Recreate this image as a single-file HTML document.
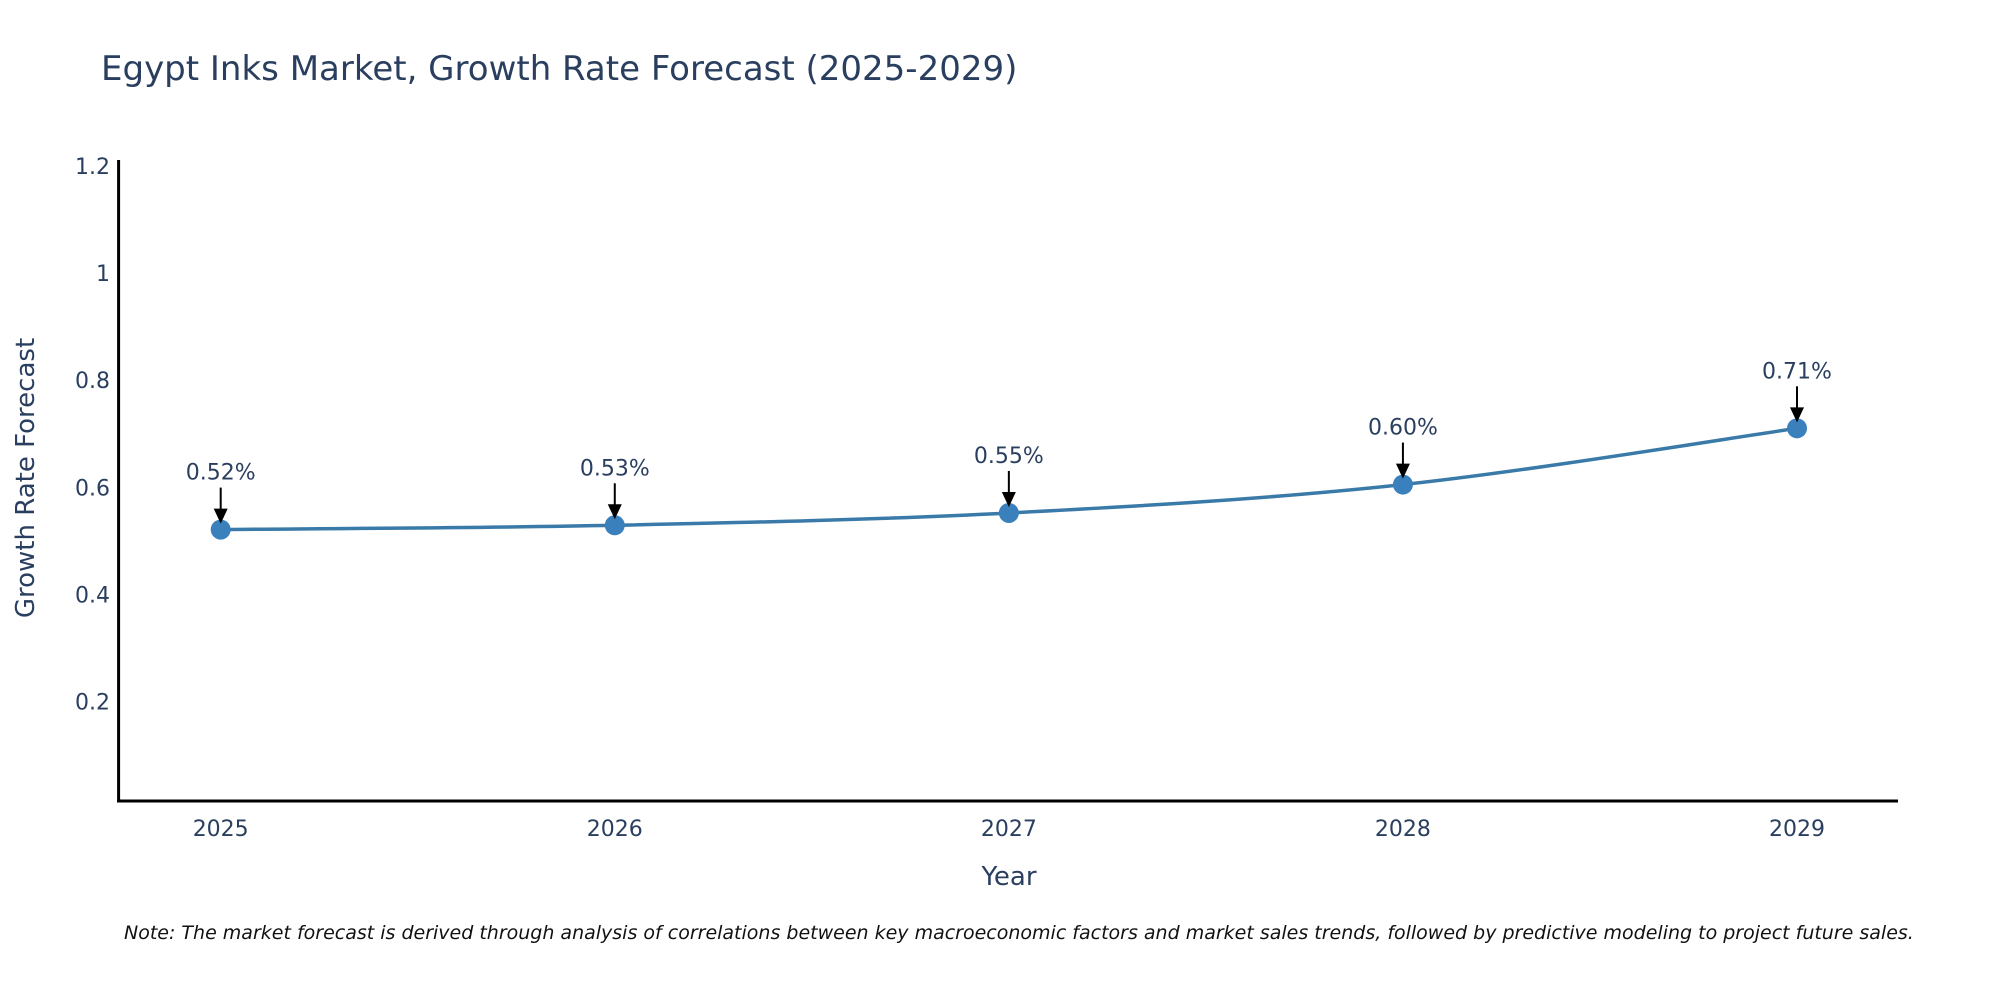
<!DOCTYPE html>
<html><head><meta charset="utf-8"><style>
html,body{margin:0;padding:0;background:#fff;}
svg{display:block;font-family:"DejaVu Sans","Liberation Sans",sans-serif;}
</style></head><body>
<svg id="chart" width="2000" height="1000" viewBox="0 0 2000 1000" xmlns="http://www.w3.org/2000/svg">
<text x="101" y="80" font-size="34" fill="#2a3f5f">Egypt Inks Market, Growth Rate Forecast (2025-2029)</text>
<g id="yticks"></g><g id="xticks"></g>
<line x1="118.6" y1="160" x2="118.6" y2="802" stroke="#000" stroke-width="3"/>
<line x1="117" y1="801" x2="1898" y2="801" stroke="#000" stroke-width="3"/>
<text transform="translate(34,478) rotate(-90)" text-anchor="middle" font-size="26" fill="#2a3f5f">Growth Rate Forecast</text>
<text x="1009" y="885" text-anchor="middle" font-size="26" fill="#2a3f5f">Year</text>
<g id="series"></g>
<text x="124" y="939" font-size="19" font-style="italic" fill="#111">Note: The market forecast is derived through analysis of correlations between key macroeconomic factors and market sales trends, followed by predictive modeling to project future sales.</text>
</svg>
<script>
const years = ["2025","2026","2027","2028","2029"];
const values = [0.521, 0.529, 0.552, 0.605, 0.71];
const labels = ["0.52%","0.53%","0.55%","0.60%","0.71%"];
const yTicks = [0.2,0.4,0.6,0.8,1,1.2];
const yTickLabels = ["0.2","0.4","0.6","0.8","1","1.2"];

const NS="http://www.w3.org/2000/svg";
function xPos(i){return 220.7 + i*(1797-220.7)/(years.length-1);}
function yPos(v){return 808.7 - v*(808.7-165.8)/1.2;}
function mk(tag,attrs,parent){const e=document.createElementNS(NS,tag);for(const k in attrs)e.setAttribute(k,attrs[k]);parent.appendChild(e);return e;}

const yt=document.getElementById('yticks');
yTicks.forEach((v,i)=>{
  const t=mk('text',{x:110,y:yPos(v)+8,'text-anchor':'end','font-size':22,fill:'#2a3f5f'},yt);
  
  
  t.textContent=yTickLabels[i];
});
const xt=document.getElementById('xticks');
years.forEach((y,i)=>{
  const t=mk('text',{x:xPos(i),y:836,'text-anchor':'middle','font-size':22,fill:'#2a3f5f'},xt);
  
  
  t.textContent=y;
});

const g=document.getElementById('series');
const pts=values.map((v,i)=>[xPos(i),yPos(v)]);
let d=`M${pts[0][0]},${pts[0][1]}`;
for(let i=0;i<pts.length-1;i++){
  const p0=pts[Math.max(0,i-1)],p1=pts[i],p2=pts[i+1],p3=pts[Math.min(pts.length-1,i+2)];
  const s=0.5/3;
  d+=` C${p1[0]+(p2[0]-p0[0])*s},${p1[1]+(p2[1]-p0[1])*s} ${p2[0]-(p3[0]-p1[0])*s},${p2[1]-(p3[1]-p1[1])*s} ${p2[0]},${p2[1]}`;
}
const line=mk('path',{d:d,fill:'none',stroke:'#3a7aa8','stroke-width':3.5},g);



pts.forEach((p,i)=>{
  const c=mk('circle',{cx:p[0],cy:p[1],r:10,fill:'#3a80bd'},g);
  
  
  const a=mk('line',{x1:p[0],y1:p[1]-42,x2:p[0],y2:p[1]-20,stroke:'#000','stroke-width':2},g);
  
  
  const h=mk('polygon',{points:`${p[0]-7},${p[1]-21} ${p[0]+7},${p[1]-21} ${p[0]},${p[1]-6}`,fill:'#000'},g);
  
  
  const t=mk('text',{x:p[0],y:p[1]-50,'text-anchor':'middle','font-size':22,fill:'#2a3f5f'},g);
  
  
  t.textContent=labels[i];
});
</script>
</body></html>
